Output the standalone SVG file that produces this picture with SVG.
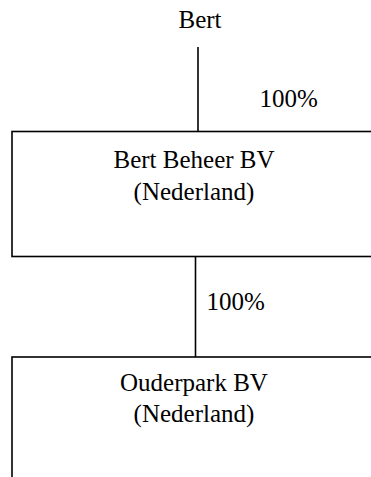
<svg xmlns="http://www.w3.org/2000/svg" width="371" height="477" viewBox="0 0 371 477">
<style>
text { font-family: "Liberation Serif", "Times New Roman", serif; font-size: 25px; fill: #000; }
.c { text-anchor: middle; }
.box { fill: #fff; stroke: #000; stroke-width: 1.6; }
.line { stroke: #000; stroke-width: 1.6; fill: none; }
</style>
<rect width="371" height="477" fill="#fff"/>
<g id="connectors">
  <line class="line" x1="198" y1="47" x2="198" y2="131.5"/>
  <line class="line" x1="195.5" y1="256.5" x2="195.5" y2="357"/>
  <text x="259.5" y="106.5">100%</text>
  <text x="206.5" y="309.5">100%</text>
</g>
<g id="bert">
  <text class="c" x="200" y="28">Bert</text>
</g>
<g id="bert-beheer">
  <rect class="box" x="12" y="131.5" width="400" height="125"/>
  <text class="c" x="194" y="168">Bert Beheer BV</text>
  <text class="c" x="194" y="199.5">(Nederland)</text>
</g>
<g id="ouderpark">
  <rect class="box" x="12" y="357" width="400" height="160"/>
  <text class="c" x="194" y="391">Ouderpark BV</text>
  <text class="c" x="194" y="422">(Nederland)</text>
</g>
</svg>
